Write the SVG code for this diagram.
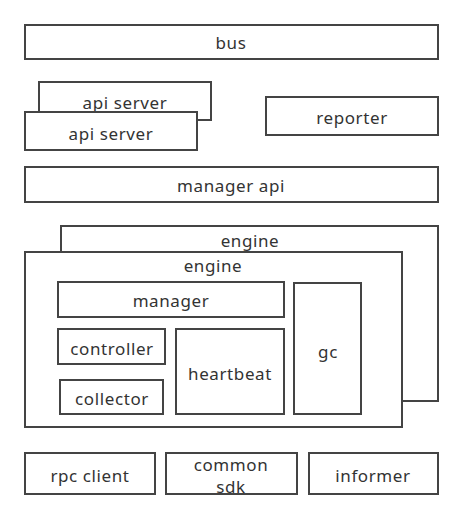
<svg xmlns="http://www.w3.org/2000/svg" width="463" height="519" viewBox="0 0 463 519">
<style>
rect{fill:#fff;stroke:#444;stroke-width:2}
text{font-family:"Noto Sans","Open Sans",sans-serif;font-size:17px;letter-spacing:0.6px;fill:#333;text-anchor:middle;dominant-baseline:central}
</style>
<rect x="0" y="0" width="463" height="519" style="stroke:none"/>
<g id="bus"><rect x="25" y="25" width="413" height="34"/><text x="231" y="42">bus</text></g>
<g id="api-server-back"><rect x="39" y="82" width="172" height="38"/><text x="125" y="102">api server</text></g>
<g id="api-server"><rect x="25" y="112" width="172" height="38"/><text x="111" y="133">api server</text></g>
<g id="reporter"><rect x="266" y="97" width="172" height="38"/><text x="352" y="117">reporter</text></g>
<g id="manager-api"><rect x="25" y="167" width="413" height="35"/><text x="231" y="185">manager api</text></g>
<g id="engine-back"><rect x="61" y="226" width="377" height="175"/><text x="250" y="240">engine</text></g>
<g id="engine"><rect x="25" y="252" width="377" height="175"/><text x="213" y="265">engine</text></g>
<g id="manager"><rect x="58" y="282" width="226" height="35"/><text x="171" y="300">manager</text></g>
<g id="controller"><rect x="58" y="329" width="107" height="35"/><text x="112" y="348">controller</text></g>
<g id="collector"><rect x="60" y="380" width="103" height="34"/><text x="112" y="398">collector</text></g>
<g id="heartbeat"><rect x="176" y="329" width="108" height="85"/><text x="230" y="373">heartbeat</text></g>
<g id="gc"><rect x="294" y="283" width="67" height="131"/><text x="328" y="351">gc</text></g>
<g id="rpc-client"><rect x="25" y="453" width="130" height="41"/><text x="90" y="475">rpc client</text></g>
<g id="common-sdk"><rect x="166" y="453" width="131" height="41"/><text x="231" y="464">common</text><text x="231" y="486">sdk</text></g>
<g id="informer"><rect x="309" y="453" width="129" height="41"/><text x="373" y="475">informer</text></g>
<g id="connectors"></g>
</svg>
